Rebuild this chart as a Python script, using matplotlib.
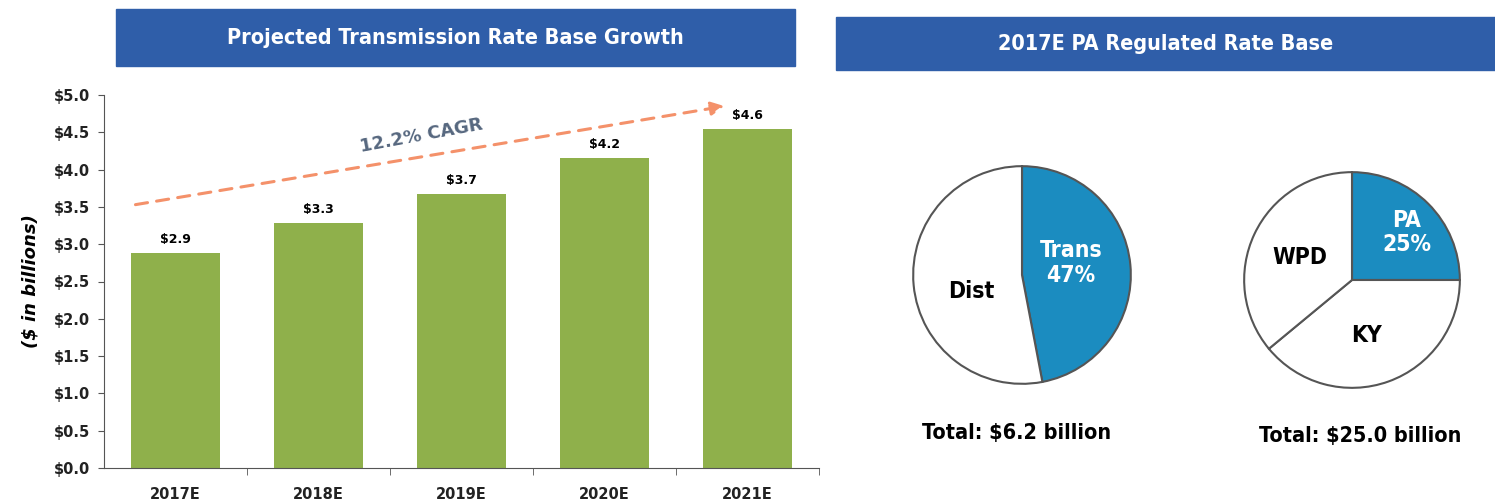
import matplotlib
matplotlib.use("Agg")
import matplotlib.pyplot as plt
from matplotlib.patches import Rectangle
from matplotlib import font_manager

# --- datos ---
anios = ["2017E", "2018E", "2019E", "2020E", "2021E"]
rate_base = [2.88, 3.28, 3.67, 4.15, 4.54]
etiquetas_barras = ["$2.9", "$3.3", "$3.7", "$4.2", "$4.6"]
y_ticks = [0.0, 0.5, 1.0, 1.5, 2.0, 2.5, 3.0, 3.5, 4.0, 4.5, 5.0]
cagr_texto = "12.2% CAGR"

pa_nombres = ["Trans", "Dist"]
pa_valores = [47, 53]
total_pa = "Total: $6.2 billion"

ppl_nombres = ["PA", "KY", "WPD"]
ppl_valores = [25, 39, 36]
total_ppl = "Total: $25.0 billion"

W, H = 1495, 503
AZUL_BANNER = "#2F5EA9"
VERDE = "#8FB04B"
AZUL_PIE = "#1B8CC0"

# fuente angosta: buscar DejaVu Sans Condensed Bold en disco
cond = [f for f in font_manager.findSystemFonts() if "DejaVuSansCondensed-Bold.ttf" in f]
if cond:
    NARROW = dict(fontproperties=font_manager.FontProperties(fname=cond[0]))
else:
    NARROW = dict(fontweight="bold")


def px(x0, y0, x1, y1):
    """caja en pixeles (origen arriba-izquierda) -> fraccion de figura"""
    return [x0 / W, 1 - y1 / H, (x1 - x0) / W, (y1 - y0) / H]


def txt(obj, x, y, s, size, **kw):
    t = obj.text(x, y, s, ha="center", va="center", **NARROW, **kw)
    t.set_fontsize(size)
    return t


fig = plt.figure(figsize=(W / 100, H / 100), dpi=100)

# --- banners ---
for (x0, y0, x1, y1), titulo in [((116, 9, 795, 66), "Projected Transmission Rate Base Growth"),
                                 ((836, 17, 1495, 70), "2017E PA Regulated Rate Base")]:
    fig.patches.append(Rectangle((x0 / W, 1 - y1 / H), (x1 - x0) / W, (y1 - y0) / H,
                                 transform=fig.transFigure, color=AZUL_BANNER, zorder=0))
    txt(fig, (x0 + x1) / 2 / W, 1 - (y0 + y1) / 2 / H, titulo, 15.5, color="white")

# --- barras ---
ax = fig.add_axes(px(104, 95, 819, 468))
xs = list(range(len(anios)))
ax.bar(xs, rate_base, width=0.62, color=VERDE, zorder=2)
for x, v, t in zip(xs, rate_base, etiquetas_barras):
    ax.text(x, v + 0.1, t, ha="center", va="bottom", fontsize=9, fontweight="bold")
ax.set_xlim(-0.5, len(anios) - 0.5)
ax.set_ylim(0, 5.0)
ax.set_yticks(y_ticks)
ax.set_yticklabels([f"${v:.1f}" for v in y_ticks], fontsize=10.5, fontweight="bold", color="#222222")
ax.set_xticks(xs)
ax.set_xticklabels(anios, fontsize=10.5, fontweight="bold", color="#222222")
ax.set_xticks([x + 0.5 for x in xs], minor=True)
ax.tick_params(axis="x", which="major", length=0, pad=14)
ax.tick_params(axis="x", which="minor", length=5, direction="out", color="#555555")
ax.tick_params(axis="y", length=4, direction="out", color="#555555", pad=6)
for lado in ["top", "right"]:
    ax.spines[lado].set_visible(False)
for lado in ["left", "bottom"]:
    ax.spines[lado].set_color("#555555")
ax.set_ylabel("($ in billions)", fontsize=13, fontweight="bold", style="italic", labelpad=10)

# flecha CAGR
ax.annotate("", xy=(3.84, 4.85), xytext=(-0.28, 3.53),
            arrowprops=dict(arrowstyle="-|>,head_length=0.8,head_width=0.4", color="#F4916A",
                            lw=2.2, linestyle=(0, (4, 3)), shrinkA=0, shrinkB=0))
ax.text(1.72, 4.45, cagr_texto, rotation=10.5, ha="center", va="center",
        fontsize=13, fontweight="bold", color="#56677F")

# --- pie Trans / Dist ---
axp = fig.add_axes(px(1022 - 111, 275 - 111, 1022 + 111, 275 + 111))
axp.pie(pa_valores, colors=[AZUL_PIE, "white"], startangle=90, counterclock=False,
        wedgeprops=dict(edgecolor="#555555", linewidth=1.5))
axp.set_xlim(-1.02, 1.02)
axp.set_ylim(-1.02, 1.02)
txt(axp, 0.45, 0.11, f"{pa_nombres[0]}\n{pa_valores[0]}%", 16.5, color="white", linespacing=1.1)
txt(axp, -0.47, -0.15, pa_nombres[1], 16.5, color="black")
txt(fig, 1017 / W, 1 - 433 / H, total_pa, 15.5, color="black")

# --- pie PA / KY / WPD ---
axq = fig.add_axes(px(1352 - 110, 280 - 110, 1352 + 110, 280 + 110))
axq.pie(ppl_valores, colors=[AZUL_PIE, "white", "white"], startangle=90, counterclock=False,
        wedgeprops=dict(edgecolor="#555555", linewidth=1.5))
axq.set_xlim(-1.02, 1.02)
axq.set_ylim(-1.02, 1.02)
txt(axq, 0.51, 0.44, f"{ppl_nombres[0]}\n{ppl_valores[0]}%", 16.5, color="white", linespacing=1.1)
txt(axq, 0.13, -0.51, ppl_nombres[1], 16.5, color="black")
txt(axq, -0.48, 0.21, ppl_nombres[2], 16.5, color="black")
txt(fig, 1360 / W, 1 - 436 / H, total_ppl, 15.5, color="black")

fig.savefig("out.png", dpi=100)
